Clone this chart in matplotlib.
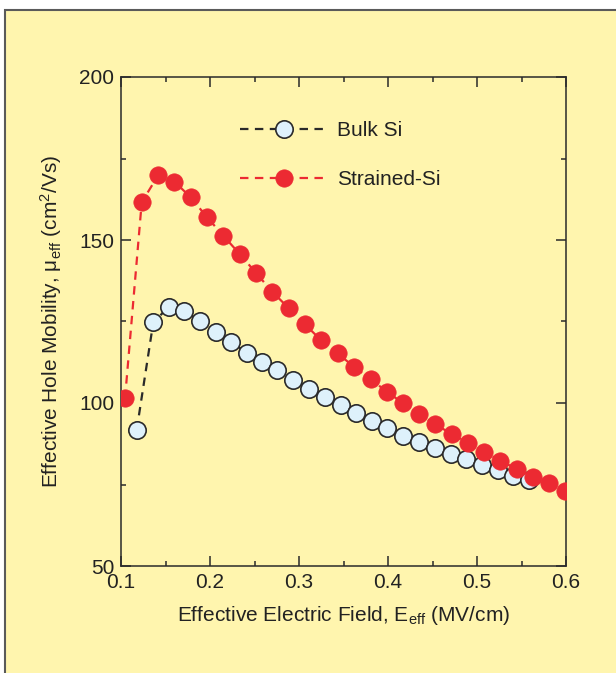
import numpy as np
import matplotlib
matplotlib.use('Agg')
import matplotlib.pyplot as plt
from matplotlib.patches import Rectangle
from matplotlib.ticker import MultipleLocator

plt.rcParams['font.family'] = ['Liberation Sans', 'DejaVu Sans']
plt.rcParams['mathtext.fontset'] = 'custom'
plt.rcParams['mathtext.rm'] = 'Liberation Sans'
plt.rcParams['mathtext.it'] = 'Liberation Sans:italic'

# data
bulk_x = [0.1176, 0.1363, 0.1539, 0.1713, 0.1888, 0.2064, 0.2236, 0.2412, 0.2588,
          0.2758, 0.2936, 0.3116, 0.3292, 0.3469, 0.3644, 0.3820, 0.3994, 0.4172,
          0.4348, 0.4528, 0.4704, 0.4880, 0.5056, 0.5233, 0.5408, 0.5579]
bulk_y = [91.7, 124.8, 129.5, 128.2, 125.2, 121.9, 118.8, 115.4, 112.7,
          110.0, 107.2, 104.4, 101.8, 99.4, 96.9, 94.6, 92.3, 89.9,
          88.0, 86.2, 84.4, 82.8, 81.1, 79.4, 77.6, 76.4]

strained_x = [0.1045, 0.1233, 0.1419, 0.1600, 0.1783, 0.1963, 0.2150, 0.2337, 0.2517,
              0.2700, 0.2888, 0.3067, 0.3247, 0.3435, 0.3618, 0.3806, 0.3985, 0.4172,
              0.4348, 0.4528, 0.4716, 0.4902, 0.5082, 0.5258, 0.5446, 0.5626, 0.5809, 0.5992]
strained_y = [101.4, 161.6, 169.9, 167.9, 163.1, 157.1, 151.3, 145.6, 139.9,
              134.1, 129.0, 124.1, 119.3, 115.2, 111.1, 107.3, 103.5, 99.9,
              96.6, 93.5, 90.5, 87.6, 85.1, 82.3, 79.8, 77.4, 75.4, 73.0]

bg = '#fff5ae'
red = '#ec2a32'
blue_fill = '#def1fb'
dark = '#2a2a2a'
txt = '#222222'

W, H = 616, 673
fig = plt.figure(figsize=(W / 100, H / 100), dpi=100, facecolor='white')

# yellow panel with grey border
panel = Rectangle((5 / W, -0.05), 1.2, (H - 10) / H + 0.05, transform=fig.transFigure,
                  facecolor=bg, edgecolor='#5a5a5a', linewidth=1.5, zorder=-10)
fig.patches.append(panel)

ax = fig.add_axes([121 / W, (H - 566) / H, (566 - 121) / W, (566 - 77) / H])
ax.set_zorder(5)
ax.set_facecolor(bg)

ax.plot(bulk_x, bulk_y, color=dark, linestyle=(0, (3.8, 2.9)), linewidth=1.6,
        marker='o', markersize=12.5, markerfacecolor=blue_fill,
        markeredgecolor=dark, markeredgewidth=1.2, label='Bulk Si', zorder=3)
ax.plot(strained_x, strained_y, color=red, linestyle=(0, (3.8, 2.9)), linewidth=1.6,
        marker='o', markersize=12.5, markerfacecolor=red,
        markeredgecolor=red, markeredgewidth=0.5, label='Strained-Si', zorder=4)

ax.set_xlim(0.1, 0.6)
ax.set_ylim(50, 200)
ax.xaxis.set_minor_locator(MultipleLocator(0.05))
ax.yaxis.set_major_locator(MultipleLocator(50))
ax.yaxis.set_minor_locator(MultipleLocator(25))
ax.set_xticks([0.1, 0.2, 0.3, 0.4, 0.5, 0.6])
ax.set_xticklabels(['0.1', '0.2', '0.3', '0.4', '0.5', '0.6'])
ax.tick_params(which='both', direction='in', top=True, right=True,
               color=dark, width=1.1, labelsize=15, labelcolor=txt)
ax.tick_params(which='major', length=7, pad=5)
ax.tick_params(which='minor', length=3.6)
for s in ax.spines.values():
    s.set_color(dark)
    s.set_linewidth(1.1)

ax.set_xlabel('Effective Electric Field, E$_{\\mathrm{eff}}$ (MV/cm)',
              fontsize=15, color=txt, labelpad=9)
ax.set_ylabel('Effective Hole Mobility, \u03bc$_{\\mathrm{eff}}$ (cm$^{2}$/Vs)',
              fontsize=15, color=txt, labelpad=11)

ax.legend(loc='upper left', bbox_to_anchor=(0.267, 0.909), frameon=False,
          borderpad=0, borderaxespad=0,
          fontsize=15, handlelength=4.2, numpoints=1, labelspacing=1.42,
          handletextpad=0.45, labelcolor=txt)

fig.savefig('out.png', dpi=100, facecolor='white')
